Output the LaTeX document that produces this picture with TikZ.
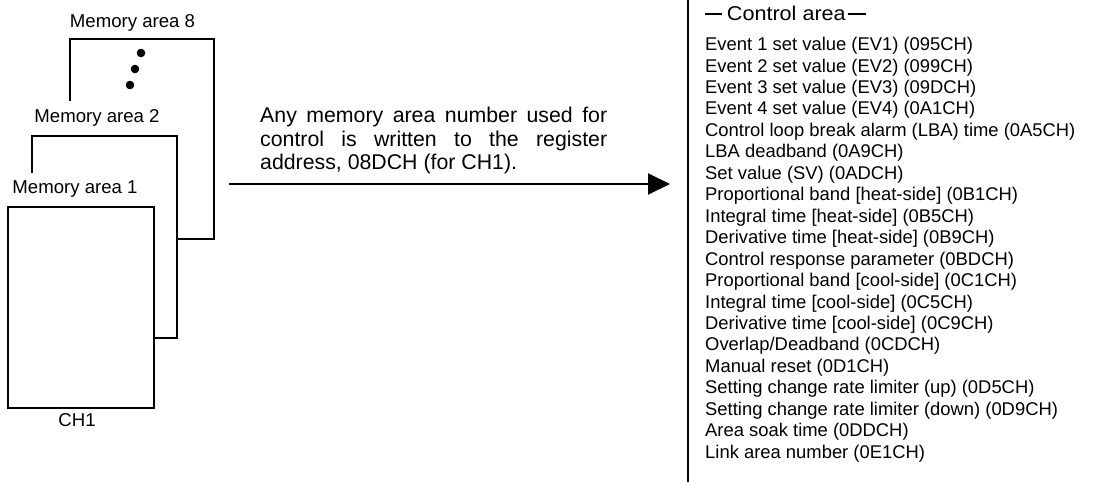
\documentclass[tikz,border=0pt]{standalone}
\usepackage{fontspec}
\setmainfont{Liberation Sans}
\usetikzlibrary{arrows.meta}
\tikzset{
  frame/.style={line width=2.5pt, line join=miter},
  lbl/.style={anchor=base, inner sep=0pt, font=\fontsize{18.6}{21.5}\selectfont},
  item/.style={anchor=base west, inner sep=0pt, font=\fontsize{18.4}{21.5}\selectfont},
  titletext/.style={anchor=base west, inner sep=0pt, font=\fontsize{20}{22}\selectfont},
  midtext/.style={anchor=base west, inner sep=0pt, font=\fontsize{21.3}{23.5}\selectfont},
  conn/.style={line width=2pt, -{Triangle[length=22pt,width=21pt]}},
  dotmark/.style={fill=black, draw=none},
}
\begin{document}
\begin{tikzpicture}[x=1pt,y=-1pt]
\useasboundingbox (0,0) rectangle (1120,482);
% memory area 8 (back)
\draw[frame] (70,101) -- (70,39) -- (214,39) -- (214,239) -- (177,239);
\node[lbl] (l8) at (132.5,27.5) {Memory area 8};
\fill[dotmark] (141,53) circle (4.3);
\fill[dotmark] (135,69) circle (4.3);
\fill[dotmark] (130,85) circle (4.3);
% memory area 2
\draw[frame] (32,173) -- (32,136) -- (177,136) -- (177,338) -- (154,338);
\node[lbl] (l2) at (97,122.7) {Memory area 2};
% memory area 1
\node[draw, frame, fill=white, minimum width=146pt, minimum height=201pt, inner sep=0pt] (m1) at (81,307.5) {};
\node[lbl] (l1) at (75,193.3) {Memory area 1};
\node[lbl] (ch) at (77,426) {CH1};
% explanation text
\node[midtext] (t1) at (260,122.5) {\makebox[347pt][s]{Any memory area number used for}};
\node[midtext] (t2) at (260,146) {\makebox[347pt][s]{control is written to the register}};
\node[midtext] (t3) at (260,169.5) {address, 08DCH (for CH1).};
% arrow
\coordinate (aS) at (229,184);
\coordinate (aE) at (670,184);
\draw[conn] (aS) -- (aE);
% vertical line
\coordinate (vT) at (688,0);
\coordinate (vB) at (688,482);
\draw[line width=2.5pt] (vT) -- (vB);
% control area list
\node[titletext] (title) at (705,20.7) {\rule[6pt]{17pt}{2.1pt}\hspace{4.7pt}\scalebox{1.08}[1]{Control area}\hspace{2.5pt}\rule[6pt]{18pt}{2.1pt}};
\foreach \t [count=\i] in {
  {Event 1 set value (EV1) (095CH)},
  {Event 2 set value (EV2) (099CH)},
  {Event 3 set value (EV3) (09DCH)},
  {Event 4 set value (EV4) (0A1CH)},
  {Control loop break alarm (LBA) time (0A5CH)},
  {LBA deadband (0A9CH)},
  {Set value (SV) (0ADCH)},
  {Proportional band [heat-side] (0B1CH)},
  {Integral time [heat-side] (0B5CH)},
  {Derivative time [heat-side] (0B9CH)},
  {Control response parameter (0BDCH)},
  {Proportional band [cool-side] (0C1CH)},
  {Integral time [cool-side] (0C5CH)},
  {Derivative time [cool-side] (0C9CH)},
  {Overlap/Deadband (0CDCH)},
  {Manual reset (0D1CH)},
  {Setting change rate limiter (up) (0D5CH)},
  {Setting change rate limiter (down) (0D9CH)},
  {Area soak time (0DDCH)},
  {Link area number (0E1CH)}}
  \node[item] (it\i) at (705,{50.6+(\i-1)*21.45}) {\t};
\end{tikzpicture}
\end{document}
